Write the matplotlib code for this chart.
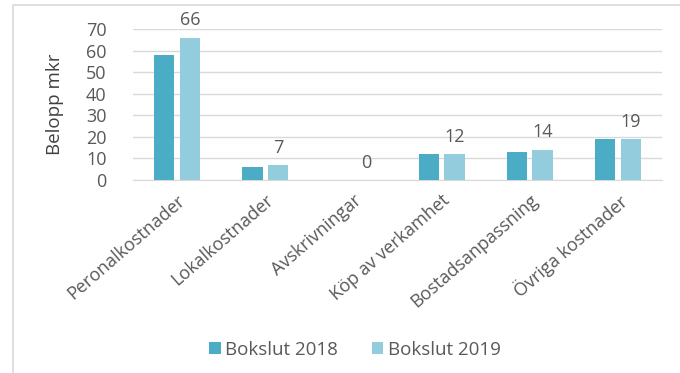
import matplotlib.pyplot as plt
from matplotlib.patches import Rectangle
import numpy as np

# Kostnader per slag, mkr
kategorier = ['Peronalkostnader', 'Lokalkostnader', 'Avskrivningar',
              'Köp av verkamhet', 'Bostadsanpassning', 'Övriga kostnader']
bokslut_2018 = [58, 6, 0, 12, 13, 19]
bokslut_2019 = [66, 7, 0, 12, 14, 19]
serier = ['Bokslut 2018', 'Bokslut 2019']
yticks = [0, 10, 20, 30, 40, 50, 60, 70]

plt.rcParams['font.family'] = ['Open Sans', 'DejaVu Sans']

fig = plt.figure(figsize=(6.8, 3.73), dpi=100)
ax = fig.add_axes([133 / 680, 1 - 180 / 373, (662 - 133) / 680, (180 - 29) / 373])

# ram runt diagrammet
fig.patches.append(Rectangle((13 / 680, -0.2), 1.2, 1.2 - 5 / 373,
                             transform=fig.transFigure, fill=False,
                             edgecolor='#D9D9D9', linewidth=1.2))

x = np.arange(len(kategorier))
bredd = 0.23
ax.bar(x - 0.145, bokslut_2018, bredd, color='#4BACC6', label=serier[0], zorder=3)
staplar = ax.bar(x + 0.145, bokslut_2019, bredd, color='#93CDDD', label=serier[1], zorder=3)

for s, v in zip(staplar, bokslut_2019):
    ax.annotate(str(v), (s.get_x() + s.get_width() / 2, v), xytext=(0, 6),
                textcoords='offset points', ha='center', va='bottom',
                fontsize=13, color='#595959')

ax.set_xlim(-0.5, len(kategorier) - 0.5)
ax.set_ylim(0, 70)
ax.set_yticks(yticks)
ax.grid(axis='y', color='#D9D9D9', linewidth=1, zorder=0)
for side in ['top', 'right', 'left']:
    ax.spines[side].set_visible(False)
ax.spines['bottom'].set_color('#D9D9D9')
ax.tick_params(axis='both', length=0, labelsize=13, labelcolor='#595959')
ax.tick_params(axis='y', pad=19)
ax.set_xticks(x)
ax.set_xticklabels(kategorier, rotation=41, ha='right', rotation_mode='anchor',
                   fontsize=13, color='#595959')
ax.tick_params(axis='x', pad=8)
ax.set_ylabel('Belopp mkr', fontsize=13.5, color='#404040', labelpad=16)

ax.legend(loc='center', bbox_to_anchor=(355 / 680, 1 - 350 / 373),
          bbox_transform=fig.transFigure, ncol=2, frameon=False, fontsize=13.5,
          handlelength=0.6, handleheight=0.6, handletextpad=0.25, columnspacing=1.8,
          labelcolor='#595959')

fig.savefig('out.png', dpi=100)
